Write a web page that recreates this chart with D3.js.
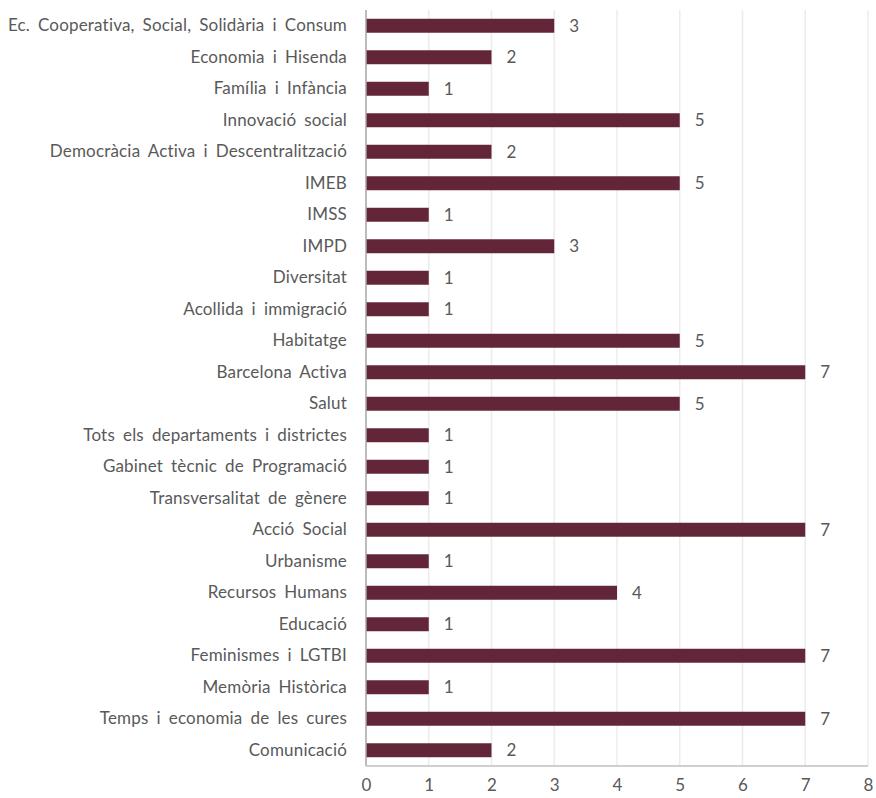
<!DOCTYPE html>
<html>
<head>
<meta charset="utf-8">
<script src="https://cdn.jsdelivr.net/npm/d3@7"></script>
<style>
  html, body { margin: 0; padding: 0; background: #fff; }
  svg { display: block; }
</style>
</head>
<body>
<svg id="chart" width="876" height="798"></svg>
<script>
// Departments, top to bottom, and their counts
const categories = [
  "Ec. Cooperativa, Social, Solidària i Consum",
  "Economia i Hisenda",
  "Família i Infància",
  "Innovació social",
  "Democràcia Activa i Descentralització",
  "IMEB",
  "IMSS",
  "IMPD",
  "Diversitat",
  "Acollida i immigració",
  "Habitatge",
  "Barcelona Activa",
  "Salut",
  "Tots els departaments i districtes",
  "Gabinet tècnic de Programació",
  "Transversalitat de gènere",
  "Acció Social",
  "Urbanisme",
  "Recursos Humans",
  "Educació",
  "Feminismes i LGTBI",
  "Memòria Històrica",
  "Temps i economia de les cures",
  "Comunicació"
];
const values = [3, 2, 1, 5, 2, 5, 1, 3, 1, 1, 5, 7, 5, 1, 1, 1, 7, 1, 4, 1, 7, 1, 7, 2];
const xTicks = [0, 1, 2, 3, 4, 5, 6, 7, 8];

const FONT = "Lato, 'Open Sans', sans-serif";
const FONT_SIZE = 17;
const TEXT = "#595959";
const BAR = "#632639";

const svg = d3.select("#chart");
const plot = { left: 366, right: 868, top: 10, bottom: 766 };

const x = d3.scaleLinear().domain([0, 8]).range([plot.left, plot.right]);
const y = d3.scaleBand().domain(categories).range([plot.top, plot.bottom]).paddingInner(0.556).paddingOuter(0.278);

// vertical gridlines
svg.append("g")
  .selectAll("line")
  .data(xTicks.filter(d => d > 0))
  .join("line")
  .attr("x1", d => x(d)).attr("x2", d => x(d))
  .attr("y1", plot.top).attr("y2", plot.bottom)
  .attr("stroke", "#ececec")
  .attr("stroke-width", 1.5);

// bars
svg.append("g")
  .selectAll("rect")
  .data(categories)
  .join("rect")
  .attr("x", x(0))
  .attr("y", d => y(d))
  .attr("width", (d, i) => x(values[i]) - x(0))
  .attr("height", y.bandwidth())
  .attr("fill", BAR);

// value labels
svg.append("g")
  .selectAll("text")
  .data(categories)
  .join("text")
  .attr("x", (d, i) => x(values[i]) + 15)
  .attr("y", d => y(d) + y.bandwidth() / 2)
  .attr("dy", "0.36em")
  .attr("font-family", FONT)
  .attr("font-size", FONT_SIZE)
  .attr("fill", TEXT)
  .text((d, i) => values[i]);

// category axis
const yAxis = svg.append("g")
  .attr("transform", `translate(${plot.left},0)`)
  .call(d3.axisLeft(y).tickSize(0).tickPadding(19));
yAxis.select(".domain").attr("stroke", "#a6a6a6").attr("stroke-width", 1.5)
  .attr("d", `M0,${plot.top}V${plot.bottom}`);
yAxis.selectAll("text")
  .attr("font-family", FONT)
  .attr("font-size", FONT_SIZE)
  .attr("word-spacing", "3.5px")
  .attr("letter-spacing", "0.18px")
  .attr("fill", TEXT);

// value axis
const xAxis = svg.append("g")
  .attr("transform", `translate(0,${plot.bottom})`)
  .call(d3.axisBottom(x).tickValues(xTicks).tickSize(0).tickPadding(13));
xAxis.select(".domain").attr("stroke", "#bfbfbf").attr("stroke-width", 1.5)
  .attr("d", `M${plot.left},0H${plot.right}`);
xAxis.selectAll("text")
  .attr("font-family", FONT)
  .attr("font-size", FONT_SIZE)
  .attr("fill", TEXT);
</script>
</body>
</html>
